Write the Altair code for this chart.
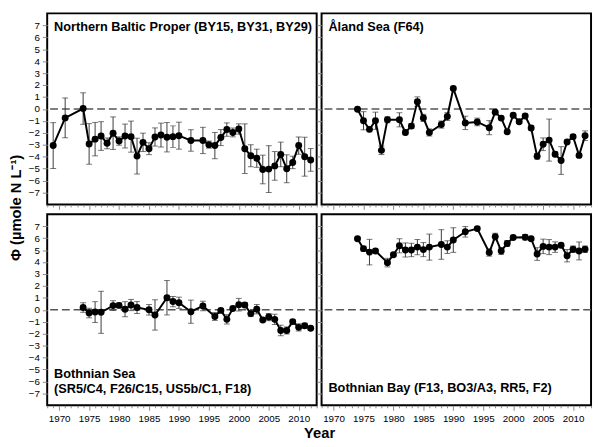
import altair as alt
import pandas as pd

FONT = "Liberation Sans"
W, H = 275, 195

# ---------------- data ----------------
nbp_year = [1969, 1971, 1974, 1975, 1976, 1977, 1978, 1979, 1980, 1981, 1982, 1983, 1984,
            1985, 1986, 1987, 1988, 1989, 1990, 1992, 1994, 1995, 1996, 1997, 1998, 1999,
            2000, 2001, 2002, 2003, 2004, 2005, 2006, 2007, 2008, 2009, 2010, 2011, 2012]
nbp_phi = [-3.07, -0.75, 0.03, -2.93, -2.53, -2.27, -2.88, -2.03, -2.69, -2.27, -2.32, -3.95, -2.8,
           -3.33, -2.35, -2.19, -2.37, -2.32, -2.24, -2.64, -2.64, -2.99, -3.07, -2.4, -1.73, -1.97,
           -1.68, -3.33, -3.92, -4.13, -5.07, -5.04, -4.77, -3.81, -5.01, -4.48, -3.07, -4.0, -4.27]
nbp_err = [1.92, 1.67, 1.32, 1.7, 1.4, 1.2, 0.45, 1.36, 0.35, 1.0, 1.3, 1.5, 0.77,
           0.5, 0.76, 1.0, 1.23, 0.9, 1.13, 0.9, 1.1, 0.3, 1.1, 0.67, 0.56, 0.37,
           0.43, 2.08, 0.92, 0.76, 1.2, 1.96, 1.2, 1.03, 1.17, 0.52, 0.72, 1.63, 0.95]

ala_year = [1974, 1975, 1976, 1977, 1978, 1979, 1981, 1982, 1983, 1984, 1985, 1986, 1988,
            1989, 1990, 1992, 1994, 1996, 1997, 1998, 1999, 2000, 2001, 2002, 2003, 2004,
            2005, 2006, 2007, 2008, 2009, 2010, 2011, 2012]
ala_phi = [-0.03, -0.99, -1.71, -0.99, -3.47, -0.91, -0.91, -1.97, -1.44, 0.61, -0.75, -1.97, -1.31,
           -0.64, 1.71, -1.17, -1.09, -1.57, -0.27, -0.77, -1.92, -0.53, -1.07, -0.59, -1.6, -3.97,
           -2.96, -2.61, -3.79, -4.32, -2.77, -2.32, -3.89, -2.24]
ala_err = [0.05, 0.76, 0.2, 0.72, 0.35, 0.25, 0.59, 0.2, 0.2, 0.4, 0.3, 0.3, 0.3,
           0.33, 0.1, 0.56, 0.32, 0.59, 0.15, 0.15, 0.15, 0.15, 0.15, 0.15, 0.2, 0.24,
           0.53, 1.76, 0.2, 1.16, 0.15, 0.15, 0.15, 0.4]

bs_year = [1974, 1975, 1976, 1977, 1979, 1980, 1981, 1982, 1983, 1985, 1986, 1988, 1989,
           1990, 1992, 1994, 1996, 1997, 1998, 1999, 2000, 2001, 2002, 2003, 2004, 2005,
           2006, 2007, 2008, 2009, 2010, 2011, 2012]
bs_phi = [0.19, -0.27, -0.19, -0.21, 0.35, 0.37, 0.05, 0.4, 0.19, 0.0, -0.43, 1.01, 0.69,
          0.59, -0.16, 0.32, -0.56, -0.05, -0.8, 0.11, 0.43, 0.4, -0.32, 0.05, -0.85, -0.61,
          -0.8, -1.73, -1.73, -0.99, -1.47, -1.33, -1.55]
bs_err = [0.4, 0.4, 0.87, 1.76, 0.41, 0.2, 0.63, 0.47, 0.5, 0.44, 1.27, 1.44, 0.43,
          0.47, 0.97, 0.4, 0.33, 0.15, 0.39, 0.15, 0.53, 0.2, 0.25, 0.39, 0.15, 0.3,
          0.43, 0.44, 0.3, 0.15, 0.3, 0.2, 0.15]

bb_year = [1974, 1975, 1976, 1977, 1979, 1980, 1981, 1982, 1983, 1984, 1985, 1986, 1988,
           1989, 1990, 1992, 1994, 1996, 1997, 1998, 1999, 2000, 2002, 2003, 2004, 2005,
           2006, 2007, 2008, 2009, 2010, 2011, 2012]
bb_phi = [5.95, 5.12, 4.83, 4.93, 3.95, 4.61, 5.36, 5.01, 5.01, 5.25, 5.04, 5.25, 5.47,
          5.25, 5.84, 6.53, 6.8, 4.8, 6.13, 4.93, 5.55, 6.05, 6.08, 5.95, 4.67, 5.31,
          5.25, 5.25, 5.41, 4.53, 5.07, 4.93, 5.07]
bb_err = [0.1, 0.2, 1.07, 0.15, 0.36, 0.15, 0.59, 0.59, 0.56, 0.64, 0.59, 1.09, 1.24,
          0.53, 1.03, 0.44, 0.15, 0.31, 0.28, 0.29, 0.24, 0.15, 0.23, 0.15, 0.53, 0.61,
          0.63, 0.44, 0.15, 0.52, 0.27, 0.75, 0.27]

panel_labels = [
    ["Northern Baltic Proper (BY15, BY31, BY29)"],
    ["Åland Sea (F64)"],
    ["Bothnian Sea", "(SR5/C4, F26/C15, US5b/C1, F18)"],
    ["Bothnian Bay (F13, BO3/A3, RR5, F2)"],
]
y_ticks = list(range(-7, 8))
x_ticks = list(range(1968, 2014))
y_title = "Φ (µmole N L⁻¹)"
x_title = "Year"

TICK_COND = {"condition": {"test": "datum.value % 5 === 0", "value": 5}, "value": 2.5}


def panel(years, phi, err, label, label_top, x_labels, y_labels, y_title_on, x_title_on):
    df = pd.DataFrame({"year": years, "phi": phi, "err": err})

    xaxis = alt.Axis(
        values=x_ticks,
        labels=x_labels,
        format="d",
        labelExpr="datum.value % 5 === 0 ? datum.label : ''" if x_labels else "''",
        tickSize=TICK_COND,
        labelPadding=4,
        grid=False,
        domain=False,
        title=x_title if x_title_on else "",
        titleX=W + 2.5,
        titleY=33,
        titleAlign="center",
        titleBaseline="alphabetic",
        titleFontSize=15,
        titleFontWeight="bold",
        titleFont=FONT,
        labelOverlap=False,
        labelFlush=False,
    )
    yaxis = alt.Axis(
        values=y_ticks,
        labels=y_labels,
        labelExpr="datum.label" if y_labels else "''",
        tickSize=5,
        labelPadding=3,
        grid=False,
        domain=False,
        labelOverlap=False,
        title=y_title if y_title_on else "",
        titleX=-24,
        titleY=H + 3,
        titleAngle=270,
        titleAlign="center",
        titleBaseline="bottom",
        titleFontSize=15,
        titleFontWeight="bold",
        titleFont=FONT,
    )
    xs = alt.Scale(domain=[1968, 2013], nice=False, zero=False)
    ys = alt.Scale(domain=[-8, 8], nice=False)

    base = alt.Chart(df).transform_calculate(
        lo="datum.phi - datum.err", hi="datum.phi + datum.err", zero="0"
    )

    zero = base.transform_filter("datum.year === " + str(years[0])).mark_rule(
        color="#555555", strokeWidth=1.5, strokeDash=[8, 4]
    ).encode(
        y=alt.Y("zero:Q", scale=ys, axis=yaxis)
    )

    bars = base.mark_rule(color="#3a3a3a", strokeWidth=1).encode(
        x=alt.X("year:Q", scale=xs, axis=xaxis),
        y=alt.Y("lo:Q", scale=ys, axis=yaxis),
        y2="hi:Q",
    )
    cap_lo = base.mark_tick(color="#3a3a3a", orient="horizontal", size=6, thickness=1).encode(
        x=alt.X("year:Q", scale=xs, axis=xaxis),
        y=alt.Y("lo:Q", scale=ys, axis=yaxis),
    )
    cap_hi = base.mark_tick(color="#3a3a3a", orient="horizontal", size=6, thickness=1).encode(
        x=alt.X("year:Q", scale=xs, axis=xaxis),
        y=alt.Y("hi:Q", scale=ys, axis=yaxis),
    )
    line = base.mark_line(color="black", strokeWidth=2).encode(
        x=alt.X("year:Q", scale=xs, axis=xaxis),
        y=alt.Y("phi:Q", scale=ys, axis=yaxis),
    )
    pts = base.mark_circle(color="black", size=50, opacity=1).encode(
        x=alt.X("year:Q", scale=xs, axis=xaxis),
        y=alt.Y("phi:Q", scale=ys, axis=yaxis),
    )
    ly = 18 if label_top else (H - 28 if len(label) > 1 else H - 14)
    txt = alt.Chart(pd.DataFrame({"k": [0]})).mark_text(
        text=label if len(label) > 1 else label[0],
        align="left", baseline="alphabetic", fontSize=13, fontWeight="bold",
        font=FONT, color="black", lineHeight=15,
    ).encode(x=alt.value(7), y=alt.value(ly))

    return alt.layer(zero, bars, cap_lo, cap_hi, line, pts, txt).properties(
        width=W, height=H, view=alt.ViewBackground(stroke="black", strokeWidth=2)
    )


tl = panel(nbp_year, nbp_phi, nbp_err, panel_labels[0], True, False, True, True, False)
tr = panel(ala_year, ala_phi, ala_err, panel_labels[1], True, False, False, False, False)
bl = panel(bs_year, bs_phi, bs_err, panel_labels[2], False, True, True, False, True)
br = panel(bb_year, bb_phi, bb_err, panel_labels[3], False, True, False, False, False)

chart = alt.concat(tl, tr, bl, br, columns=2, spacing={"row": 10, "column": 5}, bounds="flush").configure_view(
    stroke="black", strokeWidth=2
).configure_axis(
    grid=False, domain=False, labelFont=FONT, labelFontSize=11.5, labelColor="black",
    tickColor="black", tickWidth=1, titleColor="black", labelOverlap=False,
).configure(background="white", padding=0)

chart.save("out.html", embed_options={"renderer": "svg", "actions": False})
